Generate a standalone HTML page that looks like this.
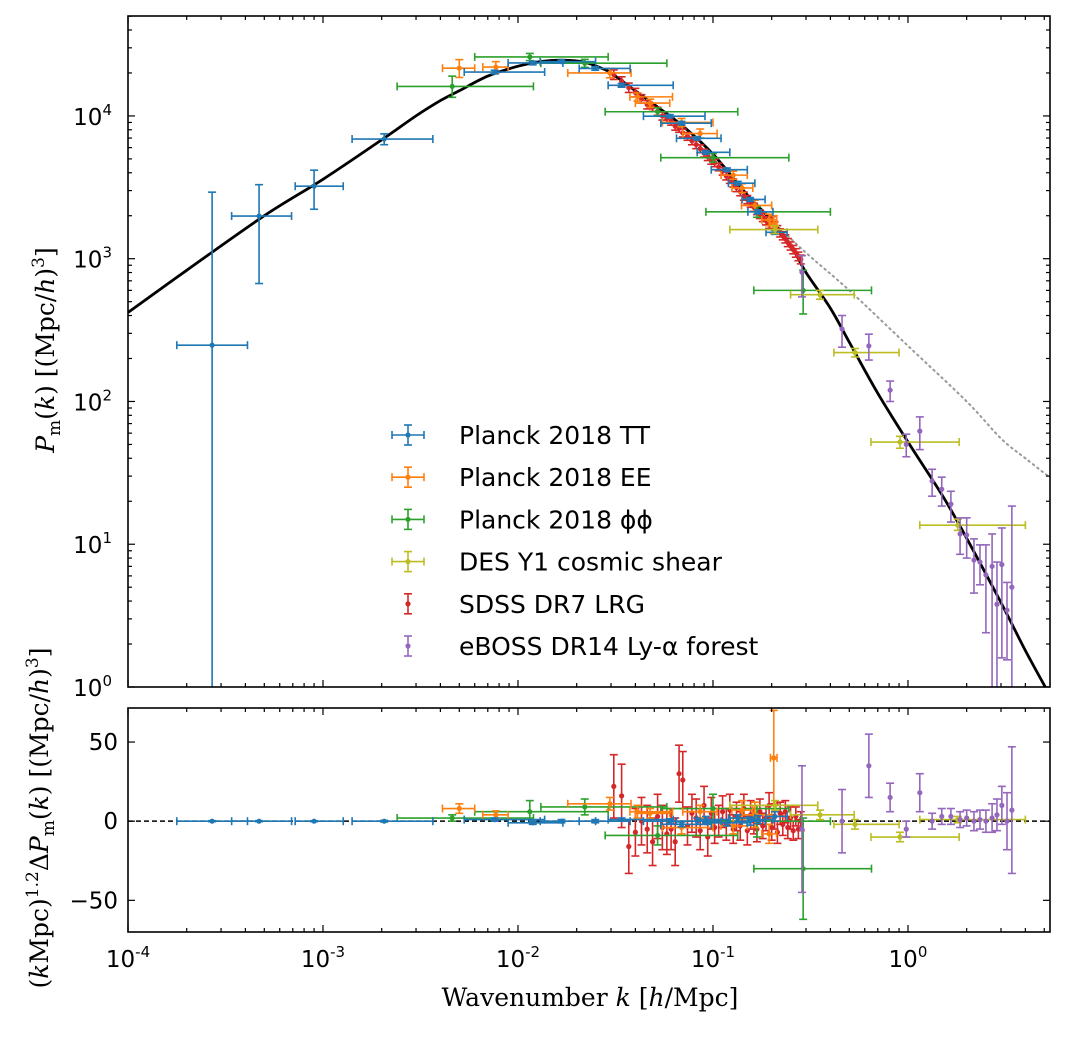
<!DOCTYPE html>
<html><head><meta charset="utf-8"><style>
html,body{margin:0;padding:0;background:#fff;}
svg{display:block;}
text{font-family:"DejaVu Sans","Liberation Sans",sans-serif;}
.math{font-family:"DejaVu Serif","Liberation Serif",serif;}
</style></head><body>
<svg id="chart" width="1067" height="1041" viewBox="0 0 1067 1041" xmlns="http://www.w3.org/2000/svg">
<defs>
<clipPath id="clipTop"><rect x="128" y="16" width="922" height="671"/></clipPath>
<clipPath id="clipBot"><rect x="128" y="708" width="922" height="224"/></clipPath>
</defs>
<g id="top" clip-path="url(#clipTop)"></g>
<g id="bot" clip-path="url(#clipBot)"></g>
<g id="axes"></g>
<g id="legend"></g>
<text class="math" transform="translate(54,350) rotate(-90)" text-anchor="middle" font-size="25"><tspan font-style="italic">P</tspan><tspan font-size="17" dy="6">m</tspan><tspan dy="-6">(</tspan><tspan font-style="italic">k</tspan>)  [(Mpc/<tspan font-style="italic">h</tspan>)<tspan font-size="17" dy="-10">3</tspan><tspan dy="10">]</tspan></text>
<text class="math" transform="translate(48,818) rotate(-90)" text-anchor="middle" font-size="25">(<tspan font-style="italic">k</tspan>Mpc)<tspan font-size="17" dy="-10">1.2</tspan><tspan dy="10">Δ</tspan><tspan font-style="italic">P</tspan><tspan font-size="17" dy="6">m</tspan><tspan dy="-6">(</tspan><tspan font-style="italic">k</tspan>)  [(Mpc/<tspan font-style="italic">h</tspan>)<tspan font-size="17" dy="-10">3</tspan><tspan dy="10">]</tspan></text>
<text class="math" x="590" y="1006" text-anchor="middle" font-size="25">Wavenumber <tspan font-style="italic">k</tspan>  [<tspan font-style="italic">h</tspan>/Mpc]</text>
</svg>
<script>
// ---- model curves ----
const modelK = [1e-4,2e-4,5e-4,1e-3,2e-3,3e-3,4e-3,5e-3,7e-3,1e-2,0.013,0.017,0.022,0.027,0.03,0.04,0.05,0.07,0.1,0.15,0.2,0.25,0.3,0.4,0.5,0.7,1,1.5,2,3,4,5.4];
const modelP = [420,830,2000,3600,6800,10000,12800,15000,19000,22300,24000,24600,23800,21500,20000,15000,12000,8500,5400,2800,1850,1250,800,450,260,114,52,22,11,3.9,1.8,0.85];
const nlK = [0.2,0.3,0.5,1,2,3,4,5.4];
const nlP = [1850,1100,600,245,100,55,40,29];
// ---- Planck TT ----
const ttK = [2.7e-4,4.7e-4,9.0e-4,2.06e-3,7.6e-3,0.0119,0.0167,0.0249,0.034,0.060,0.069,0.083,0.092,0.118,0.134,0.155,0.17,0.208];
const ttKlo = [1.78e-4,3.4e-4,7.2e-4,1.41e-3,5.3e-3,8.9e-3,0.013,0.0206,0.029,0.044,0.054,0.065,0.083,0.098,0.12,0.141,0.151,0.187];
const ttKhi = [4.1e-4,6.9e-4,1.27e-3,3.66e-3,0.0137,0.017,0.025,0.0376,0.0625,0.091,0.098,0.11,0.122,0.15,0.164,0.185,0.203,0.24];
const ttP = [248,1990,3220,6890,20300,23500,24000,21500,16400,9960,8900,6970,5560,4200,3380,2600,2130,1530];
const ttPlo = [0.05,670,2220,6290,19700,22800,23400,20900,15900,9700,8650,6780,5400,4080,3280,2520,2060,1480];
const ttPhi = [2925,3300,4170,7490,20900,24200,24600,22100,16900,10220,9150,7160,5720,4320,3480,2680,2200,1580];
const ttRes = [0,0,0,0,1,-1,0,0,1,0,-2,0,1,-1,2,0,1,3];
const ttResErr = [0.3,0.3,0.3,0.5,1,1,1,1,1,1.5,1.5,2,2,2,2,2.5,2.5,3];
// ---- Planck EE ----
const eeK = [5.0e-3,7.7e-3,0.0296,0.041,0.0476,0.069,0.086,0.127,0.141,0.164,0.194,0.205];
const eeKlo = [4.1e-3,6.6e-3,0.018,0.0375,0.04,0.055,0.07,0.11,0.125,0.14,0.178,0.197];
const eeKhi = [6.0e-3,8.9e-3,0.038,0.062,0.06,0.1,0.105,0.15,0.16,0.2,0.212,0.213];
const eeP = [21600,22000,20000,13600,12300,9000,7530,3850,3130,2360,1870,1750];
const eePlo = [18600,20000,18500,12700,11500,8400,7000,3600,2900,2150,1700,1500];
const eePhi = [24800,24000,21500,14500,13100,9600,8100,4100,3350,2570,2050,2000];
const eeRes = [8,4,11,6,5,-4,6,-3,7,4,-8,40];
const eeResErr = [3,2.5,4,4,3,4,4,5,6,8,6,30];
// ---- Planck phi-phi ----
const ppK = [4.6e-3,0.0115,0.022,0.052,0.1,0.168,0.29];
const ppKlo = [2.4e-3,6.0e-3,0.0131,0.028,0.054,0.092,0.162];
const ppKhi = [0.012,0.029,0.058,0.134,0.245,0.4,0.65];
const ppP = [16100,25900,23400,10700,5100,2130,600];
const ppPlo = [13500,24400,21900,10000,4750,1950,410];
const ppPhi = [19000,27400,24900,11400,5450,2310,830];
const ppRes = [2,6,9,-9,8,0,-30];
const ppResErr = [2,7,5,6,9,10,32];
// ---- DES Y1 ----
const desK = [0.208,0.354,0.535,0.91,1.8];
const desKlo = [0.122,0.25,0.417,0.646,1.15];
const desKhi = [0.345,0.53,0.9,1.83,4.0];
const desP = [1600,560,220,52,13.6];
const desPlo = [1500,520,205,47,12.5];
const desPhi = [1700,600,235,57,15];
const desRes = [10,4,-2,-10,1];
const desResErr = [3,3,3,3,2];
// ---- SDSS DR7 LRG ----
const lrgK = [0.031,0.034,0.037,0.040,0.043,0.046,0.049,0.052,0.055,0.058,0.061,0.064,0.067,0.07,0.074,0.078,0.082,0.086,0.09,0.094,0.098,0.102,0.107,0.112,0.117,0.122,0.127,0.132,0.138,0.144,0.15,0.156,0.162,0.168,0.174,0.18,0.187,0.194,0.2,0.207,0.214,0.221,0.228,0.235,0.242,0.25,0.258,0.266,0.274,0.282];
const lrgP = [19500,17500,15800,14600,13200,12000,11500,10800,10000,9600,9200,8500,8200,7600,7200,6700,6300,5900,5500,5200,4900,4700,4400,4100,3800,3600,3400,3150,2950,2750,2600,2450,2300,2180,2050,1950,1850,1750,1850,1700,1600,1520,1450,1380,1300,1230,1160,1100,1040,990];
const lrgPerr = [1500,1300,1200,1000,900,800,750,700,650,600,580,550,520,480,450,420,400,370,350,330,310,290,270,250,240,230,220,200,190,180,170,160,150,145,140,130,125,120,120,110,105,100,95,90,85,80,78,75,72,70];
const lrgRes = [22,16,-16,-7,0,-5,-13,3,-4,-8,-5,-13,30,26,-3,5,2,-6,10,-10,5,-4,0,6,-2,7,-5,3,-3,8,-6,4,0,-5,6,-3,2,10,-4,3,-7,5,-2,6,-4,2,-6,3,-5,0];
const lrgResErr = [20,20,17,15,15,15,15,14,14,13,13,15,18,18,12,12,12,12,12,12,10,10,10,10,10,10,9,9,9,9,9,9,8,8,8,8,8,8,8,8,7,7,7,7,7,7,6,6,6,6];
// ---- eBOSS Ly-a ----
const lyaK = [0.286,0.459,0.63,0.81,0.98,1.15,1.33,1.49,1.66,1.85,2.0,2.18,2.34,2.51,2.7,2.86,3.03,3.22,3.41];
const lyaP = [805,322,245,120,50,62,27.7,24.3,19.1,11.8,11.6,7.75,7.5,6.1,7.0,3.8,7.2,3.45,5.0];
const lyaPlo = [540,240,195,100,41,46,21.7,18.5,14.3,8.5,8.0,4.55,5.2,2.4,0.5,0.3,1.6,1.55,0.3];
const lyaPhi = [1050,400,296,139,59,78,33.5,29.5,23.5,15.3,15.3,10.9,9.9,9.9,11.8,7.5,13,5.4,18.5];
const lyaRes = [-5,0,35,15,-5,18,0,3,3,1,2,0,1,0,2,4,10,0,7];
const lyaResErr = [40,20,20,9,5,12,5,5,5,5,5,6,6,7,9,10,12,18,40];
const xTickLabels = ["-4","-3","-2","-1","0"];
const yTopTickLabels = ["0","1","2","3","4"];
const yBotTicks = [50,0,-50];

const NS="http://www.w3.org/2000/svg";
const X0=128,X1=1050,LX0=-4,LX1=Math.log10(5.35);
const YT0=687,YT1=16,LY0=0,LY1=4.70;
const YB0=932,YB1=708,R0=-70,R1=71.5;
function xs(k){return X0+(Math.log10(k)-LX0)/(LX1-LX0)*(X1-X0);}
function ys(p){p=Math.max(p,1e-3);return YT0-(Math.log10(p)-LY0)/(LY1-LY0)*(YT0-YT1);}
function yr(r){return YB0-(r-R0)/(R1-R0)*(YB0-YB1);}
function el(tag,attrs,parent){const e=document.createElementNS(NS,tag);for(const a in attrs)e.setAttribute(a,attrs[a]);parent.appendChild(e);return e;}
const gT=document.getElementById('top'),gB=document.getElementById('bot'),gA=document.getElementById('axes'),gL=document.getElementById('legend');

// smooth path (Catmull-Rom in pixel space)
function smoothPath(ks,ps){
  const pts=ks.map((k,i)=>[xs(k),ys(ps[i])]);
  let d='M'+pts[0][0].toFixed(1)+','+pts[0][1].toFixed(1);
  for(let i=0;i<pts.length-1;i++){
    const p0=pts[Math.max(i-1,0)],p1=pts[i],p2=pts[i+1],p3=pts[Math.min(i+2,pts.length-1)];
    const c1=[p1[0]+(p2[0]-p0[0])/6,p1[1]+(p2[1]-p0[1])/6];
    const c2=[p2[0]-(p3[0]-p1[0])/6,p2[1]-(p3[1]-p1[1])/6];
    d+=' C'+c1[0].toFixed(1)+','+c1[1].toFixed(1)+' '+c2[0].toFixed(1)+','+c2[1].toFixed(1)+' '+p2[0].toFixed(1)+','+p2[1].toFixed(1);
  }
  return d;
}
const nl=el('path',{d:smoothPath(nlK,nlP),fill:'none',stroke:'#999','stroke-width':2,'stroke-dasharray':'1.5,4','stroke-linecap':'round'},gT);


const ml=el('path',{d:smoothPath(modelK,modelP),fill:'none',stroke:'#000','stroke-width':2.8},gT);


const zl=el('line',{x1:X0,x2:X1,y1:yr(0),y2:yr(0),stroke:'#000','stroke-width':1.5,'stroke-dasharray':'5,3'},gB);



function ebar(g,cx,cy,x0,x1,y0,y1,col,name){
  const grp=el('g',{stroke:col,'stroke-width':1.6,fill:col},g);
  
  
  const c=4;
  if(x0!==null){el('line',{x1:x0,x2:x1,y1:cy,y2:cy},grp);el('line',{x1:x0,x2:x0,y1:cy-c,y2:cy+c},grp);el('line',{x1:x1,x2:x1,y1:cy-c,y2:cy+c},grp);}
  el('line',{x1:cx,x2:cx,y1:y0,y2:y1},grp);el('line',{x1:cx-c,x2:cx+c,y1:y0,y2:y0},grp);el('line',{x1:cx-c,x2:cx+c,y1:y1,y2:y1},grp);
  el('circle',{cx:cx,cy:cy,r:2.6,stroke:'none'},grp);
}
function series(K,Klo,Khi,P,Plo,Phi,Res,ResErr,col,name){
  for(let i=0;i<K.length;i++){
    const cx=xs(K[i]);
    ebar(gT,cx,ys(P[i]),Klo?xs(Klo[i]):null,Khi?xs(Khi[i]):null,ys(Plo[i]),ys(Phi[i]),col,name+'-point');
    ebar(gB,cx,yr(Res[i]),Klo?xs(Klo[i]):null,Khi?xs(Khi[i]):null,yr(Res[i]-ResErr[i]),yr(Res[i]+ResErr[i]),col,name+'-residual');
  }
}
series(lrgK,null,null,lrgP,lrgP.map((p,i)=>p-lrgPerr[i]),lrgP.map((p,i)=>p+lrgPerr[i]),lrgRes,lrgResErr,'#d62728','sdss-lrg');
series(ppK,ppKlo,ppKhi,ppP,ppPlo,ppPhi,ppRes,ppResErr,'#2ca02c','planck-phiphi');
series(eeK,eeKlo,eeKhi,eeP,eePlo,eePhi,eeRes,eeResErr,'#ff7f0e','planck-ee');
series(ttK,ttKlo,ttKhi,ttP,ttPlo,ttPhi,ttRes,ttResErr,'#1f77b4','planck-tt');
series(desK,desKlo,desKhi,desP,desPlo,desPhi,desRes,desResErr,'#bcbd22','des-y1');
series(lyaK,null,null,lyaP,lyaPlo,lyaPhi,lyaRes,lyaResErr,'#9467bd','eboss-lya');

[[YT1,YT0,'top-panel-frame'],[YB1,YB0,'bottom-panel-frame']].forEach(f=>{
  const r=el('rect',{x:X0,y:f[0],width:X1-X0,height:f[1]-f[0],fill:'none',stroke:'#000','stroke-width':1.6},gA);
  
  
});
function tk(x1,y1,x2,y2){el('line',{x1,y1,x2,y2,stroke:'#000','stroke-width':1.2},gA);}
for(let d=-4;d<=0;d++){
  for(let m=1;m<10;m++){
    const v=m*Math.pow(10,d);if(v>5.35)break;
    const x=xs(v),L=m===1?7:4;
    tk(x,YT0,x,YT0-L);tk(x,YT1,x,YT1+L);tk(x,YB0,x,YB0-L);tk(x,YB1,x,YB1+L);
  }
  const lab=el('text',{x:xs(Math.pow(10,d)),y:967,'text-anchor':'middle','font-size':23},gA);
  
  
  lab.textContent='10';
  const sp=el('tspan',{'font-size':15,dy:-10},lab);sp.textContent=xTickLabels[d+4];
}
for(let d=0;d<=4;d++){
  for(let m=1;m<10;m++){
    const v=m*Math.pow(10,d);if(Math.log10(v)>LY1)break;
    const y=ys(v),L=m===1?7:4;
    tk(X0,y,X0+L,y);tk(X1,y,X1-L,y);
  }
  const lab=el('text',{x:112,y:ys(Math.pow(10,d))+9,'text-anchor':'end','font-size':23},gA);
  
  
  lab.textContent='10';
  const sp=el('tspan',{'font-size':15,dy:-10},lab);sp.textContent=yTopTickLabels[d];
}
yBotTicks.forEach(v=>{
  const y=yr(v);tk(X0,y,X0+7,y);tk(X1,y,X1-7,y);
  const lab=el('text',{x:118,y:y+8,'text-anchor':'end','font-size':23},gA);
  
  
  lab.textContent=v<0?'\u2212'+(-v):String(v);
});
const legNames=['Planck 2018 TT','Planck 2018 EE','Planck 2018 \u03d5\u03d5','DES Y1 cosmic shear','SDSS DR7 LRG','eBOSS DR14 Ly-\u03b1 forest'];
const legCols=['#1f77b4','#ff7f0e','#2ca02c','#bcbd22','#d62728','#9467bd'];
const legX=[true,true,true,true,false,false];
legNames.forEach((n,i)=>{
  const cy=435+i*42.2;
  const g=el('g',{},gL);
  
  
  ebar(g,408,cy,legX[i]?392:null,424,cy+10,cy-10,legCols[i],'legend-marker');
  const t=el('text',{x:459,y:cy+9,'font-size':25},g);t.textContent=n;
});
</script>
</body></html>
